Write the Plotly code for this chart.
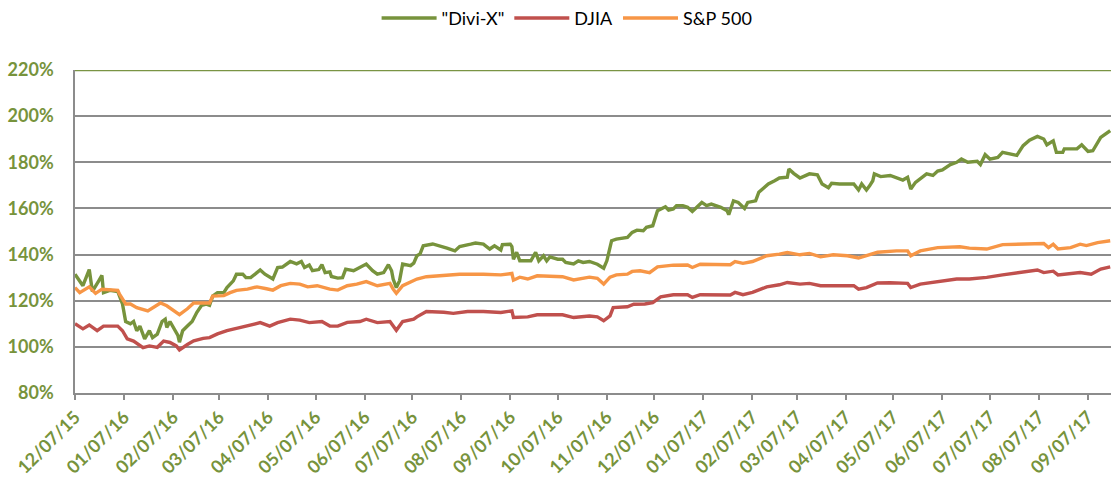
import pandas as pd
import plotly.graph_objects as go

START = pd.Timestamp("2015-12-07")

# "Divi-X": (days since 12/07/15, value %)
divix_days = [0, 5, 9, 11, 15, 17, 18, 22, 27, 30, 32, 35, 37, 39, 41, 44, 47, 49, 52, 55, 57, 58, 60, 62, 65, 66, 68, 71, 74, 77, 80, 83, 85, 87, 90, 94, 96, 100, 102, 106, 108, 111, 114, 117, 120, 123, 125, 128, 131, 136, 140, 143, 145, 148, 150, 154, 156, 158, 161, 162, 166, 169, 171, 176, 180, 184, 188, 191, 195, 198, 200, 201, 203, 205, 207, 212, 214, 216, 218, 220, 226, 231, 235, 240, 243, 250, 253, 258, 262, 265, 269, 270, 275, 276, 277, 279, 281, 283, 288, 291, 293, 296, 298, 300, 305, 308, 310, 315, 318, 321, 325, 330, 334, 336, 339, 342, 349, 352, 355, 359, 361, 365, 368, 373, 375, 378, 380, 384, 387, 390, 394, 396, 399, 402, 408, 412, 413, 416, 419, 423, 425, 430, 432, 436, 438, 442, 445, 450, 451, 454, 458, 464, 469, 472, 476, 478, 483, 492, 495, 497, 500, 502, 504, 505, 509, 515, 519, 523, 526, 528, 531, 535, 538, 542, 545, 548, 553, 557, 560, 564, 570, 572, 575, 578, 583, 586, 591, 595, 599, 603, 608, 612, 614, 618, 620, 624, 625, 633, 636, 640, 643, 648, 654]
divix_vals = [131.5, 126.5, 133.5, 124, 128.6, 131, 123.5, 124.5, 124, 118.6, 111, 110, 111, 107, 109, 103.5, 107, 104, 105.5, 111, 112, 108.4, 111, 108.4, 105, 102, 107, 109, 111, 115, 118, 118.5, 118, 122, 123.5, 123.5, 125.7, 128.6, 131.5, 131.5, 130, 130, 131.5, 133.3, 131.5, 130, 129.4, 134.4, 134.6, 137, 136, 137, 134.4, 135.5, 133, 133.5, 135.6, 132.2, 132.5, 130.5, 129.8, 130, 133.7, 133, 134.4, 135.9, 133, 131.5, 132.2, 135.6, 133, 129.4, 125.7, 128.6, 135.9, 135.2, 136.3, 139.5, 140.3, 143.8, 144.6, 143.8, 142.8, 141.6, 143.5, 144.5, 145, 144.5, 142.4, 143.8, 142, 144.3, 144.5, 143.5, 138, 141, 137.3, 137.3, 137.3, 141, 137.3, 139.5, 137.3, 139, 138, 138, 136.6, 135.9, 137.3, 136.6, 137, 135.8, 134.1, 137.3, 146, 146.7, 147.4, 149.6, 150.6, 150.3, 151.8, 152.5, 159, 160.7, 159.3, 159.8, 161.2, 161.2, 160.5, 158.7, 161.2, 162.6, 161.2, 161.9, 160.5, 159, 157.3, 163.3, 162.6, 160, 162.6, 163.3, 167, 169.1, 170.6, 172, 173.2, 173.5, 177.1, 175.2, 173.2, 175, 174.6, 170.6, 169, 170.9, 170.6, 170.6, 168, 170.6, 168, 169.8, 172, 175, 173.8, 174.3, 173.2, 172.3, 173.5, 168.4, 171.3, 173.2, 175, 174.3, 176.2, 176.7, 179, 180, 181.4, 180, 180.4, 179, 183.3, 181.4, 182.1, 184.3, 183.6, 183, 187.2, 189.6, 191.2, 190.1, 187.6, 189.3, 184.3, 184.3, 185.8, 185.8, 187.6, 184.7, 185, 190.8, 193.7]

# DJIA
djia_days = [0, 5, 9, 14, 18, 27, 30, 33, 37, 43, 47, 52, 56, 60, 64, 66, 71, 75, 81, 85, 90, 96, 102, 109, 117, 123, 128, 136, 142, 148, 156, 161, 166, 172, 180, 184, 191, 199, 201, 203, 207, 214, 216, 222, 233, 239, 248, 258, 269, 276, 277, 286, 292, 300, 308, 315, 325, 330, 334, 338, 340, 349, 353, 360, 365, 370, 378, 387, 390, 395, 414, 417, 422, 428, 437, 445, 450, 458, 464, 471, 479, 492, 495, 500, 507, 515, 526, 528, 534, 545, 557, 565, 576, 586, 597, 608, 612, 618, 621, 629, 635, 642, 648, 654]
djia_vals = [110, 107.8, 109.5, 107, 109, 109, 107, 103.5, 102.5, 99.7, 100.4, 99.8, 102.5, 101.9, 100.4, 98.7, 101, 102.6, 103.7, 104, 105.6, 107, 108, 109, 110.5, 109, 110.5, 112, 111.6, 110.5, 111, 109, 109, 110.6, 111, 112, 110.5, 111, 109, 107.2, 111, 112, 113, 115.3, 115, 114.5, 115.3, 115.3, 114.9, 115.6, 112.7, 113, 113.9, 113.8, 113.9, 112.7, 113.4, 113, 111.3, 113.4, 117, 117.4, 118.5, 118.6, 119.2, 121.7, 122.6, 122.6, 121.4, 122.6, 122.5, 123.6, 122.6, 123.6, 126, 126.9, 127.9, 127.2, 127.5, 126.5, 126.5, 126.5, 125, 125.7, 127.7, 127.8, 127.5, 125.7, 127.2, 128.3, 129.4, 129.4, 130.1, 131.2, 132.2, 133.3, 132.2, 132.8, 131.2, 131.7, 132.2, 131.5, 133.7, 134.7]

# S&P 500
sp_days = [0, 3, 9, 13, 17, 27, 28, 32, 35, 39, 46, 49, 54, 58, 62, 66, 71, 75, 81, 85, 87, 94, 98, 102, 109, 115, 121, 125, 130, 136, 142, 147, 153, 157, 161, 166, 172, 178, 184, 191, 199, 201, 203, 207, 216, 222, 233, 243, 258, 269, 276, 277, 281, 286, 292, 300, 308, 315, 325, 330, 334, 338, 342, 349, 352, 357, 363, 368, 378, 387, 390, 395, 414, 417, 422, 428, 437, 445, 450, 458, 464, 471, 479, 488, 495, 500, 507, 519, 526, 528, 534, 545, 559, 565, 576, 586, 597, 612, 615, 618, 621, 629, 635, 639, 646, 654]
sp_vals = [125.7, 123.5, 126, 123.2, 125, 124.5, 123, 118.6, 118.6, 117, 115.6, 117, 119, 117.8, 116, 114, 116.5, 119, 119, 119, 122, 122.2, 123.5, 124.5, 125, 126, 125.2, 124.6, 126.5, 127.5, 127.2, 126, 126.5, 125.7, 125, 124.6, 126.5, 127.2, 128.3, 126.5, 127.5, 125, 123.2, 126.5, 129.4, 130.4, 130.8, 131.5, 131.5, 131.2, 131.8, 128.9, 130.2, 129.4, 130.8, 130.5, 130.4, 129, 130.2, 129.7, 127.2, 130.2, 131.2, 131.5, 132.7, 133, 132.2, 134.7, 135.4, 135.5, 134.4, 135.8, 135.6, 137, 136.2, 137, 139.5, 140.2, 140.9, 139.9, 140.5, 139, 139.9, 139.5, 138.5, 139.5, 141, 141.6, 141.6, 139.5, 141.6, 143, 143.4, 142.8, 142.4, 144.3, 144.5, 144.8, 143, 144.5, 142.4, 143, 144.5, 143.9, 145.2, 146]

y_ticks = [80, 100, 120, 140, 160, 180, 200, 220]
y_labels = [f"{v}%" for v in y_ticks]

GREEN = "#77933C"
RED = "#C0504D"
ORANGE = "#F79646"
GRID = "#8C8C8C"
TOPLINE = "#7A9444"
FONT = "Lato"


def to_dates(days):
    return START + pd.to_timedelta(days, unit="D")


fig = go.Figure()
for name, days, vals, color in [
    ('"Divi-X"', divix_days, divix_vals, GREEN),
    ("DJIA", djia_days, djia_vals, RED),
    ("S&P 500", sp_days, sp_vals, ORANGE),
]:
    fig.add_trace(go.Scatter(
        x=to_dates(days), y=vals, name=name, mode="lines",
        line=dict(color=color, width=3.4),
    ))

# olive top border of the plot area (at the axis maximum)
fig.add_shape(type="line", xref="paper", yref="y", x0=0, x1=1,
              y0=y_ticks[-1], y1=y_ticks[-1],
              line=dict(color=TOPLINE, width=2.5), layer="above")

fig.update_layout(
    width=1111, height=481,
    margin=dict(l=75, r=0, t=70, b=88, autoexpand=False),
    paper_bgcolor="white", plot_bgcolor="white",
    font=dict(family=FONT, size=18, color="black"),
    showlegend=True,
    legend=dict(
        orientation="h", x=0.475, xanchor="center", y=1.16, yanchor="middle",
        font=dict(family=FONT, size=18, color="black"),
        itemwidth=55,
    ),
)

fig.update_xaxes(
    type="date", automargin=False,
    range=[START, START + pd.Timedelta(days=654.5)],
    tick0="2015-12-07", dtick="M1", tickformat="%m/%d/%y",
    tickangle=-45,
    tickfont=dict(family=FONT, size=18, color=GREEN, weight=700),
    showgrid=False,
    showline=True, linecolor=GRID, linewidth=1.5,
    ticks="outside", ticklen=5, tickcolor=GRID, tickwidth=1.5,
)
fig.update_yaxes(
    automargin=False,
    range=[80, 220], tickvals=y_ticks, ticktext=y_labels,
    tickfont=dict(family=FONT, size=18, color=GREEN, weight=700),
    showgrid=True, gridcolor=GRID, gridwidth=1.5,
    showline=True, linecolor=GRID, linewidth=1.5,
    zeroline=False, ticks="", ticklabelstandoff=16,
)

fig.write_html(
    "out.html",
    config={"displayModeBar": False},
    post_script="document.body.style.margin='0';document.body.style.overflow='hidden';",
)
